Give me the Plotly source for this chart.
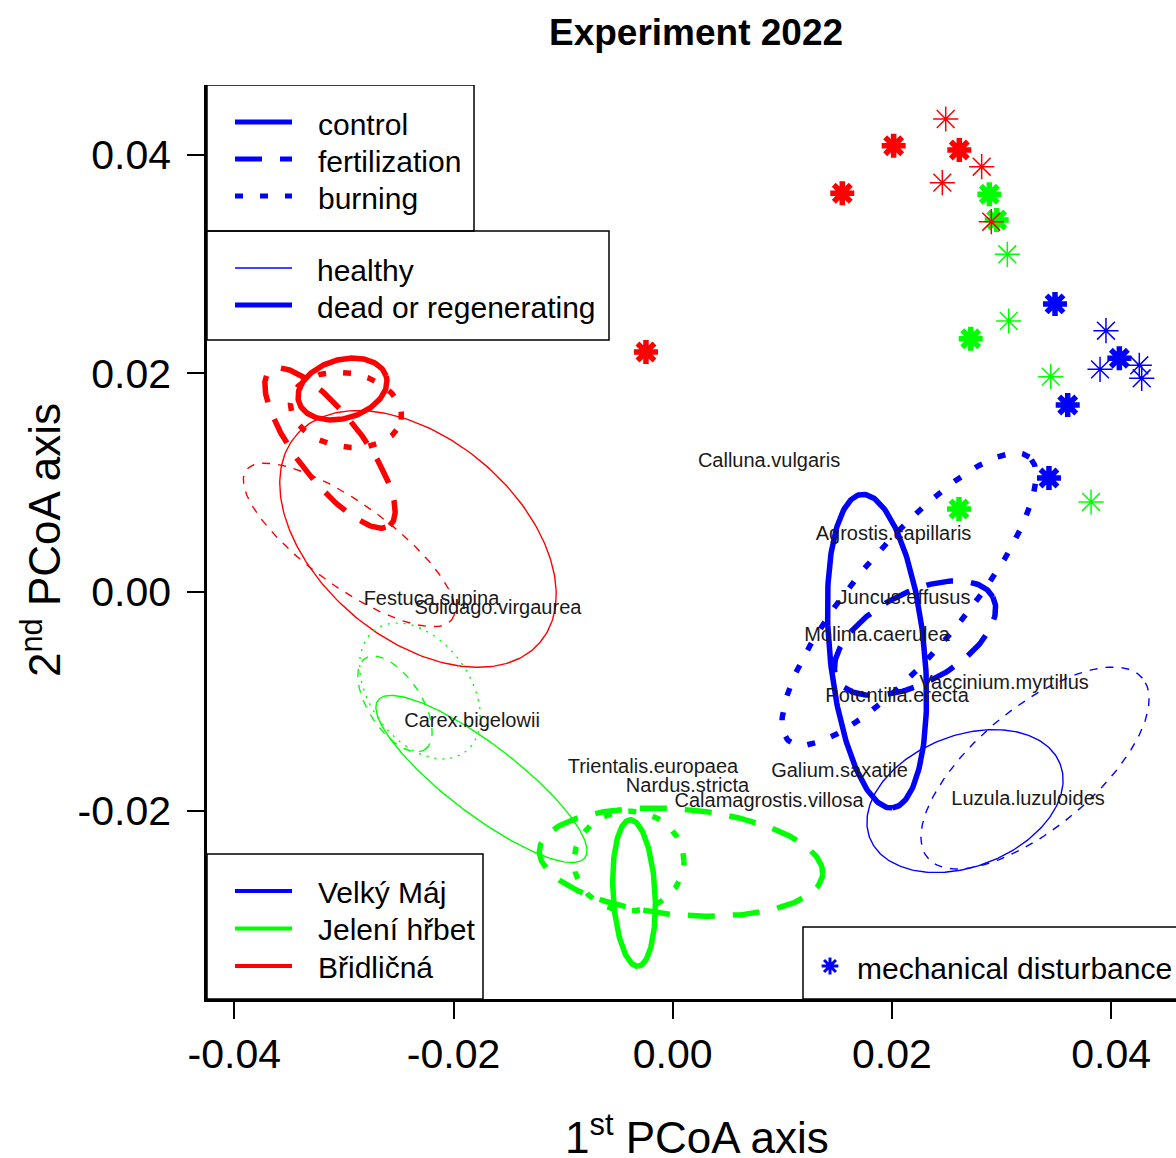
import numpy as np
import plotly.graph_objects as go

# ---------------- data ----------------
site_names = ["Velký Máj", "Jelení hřbet", "Břidličná"]
site_colors = ["#0000FF", "#00FF00", "#FF0000"]
treatment_names = ["control", "fertilization", "burning"]
state_names = ["healthy", "dead or regenerating"]

x_ticks = [-0.04, -0.02, 0.00, 0.02, 0.04]
y_ticks = [-0.02, 0.00, 0.02, 0.04]
tick_fmt = "{:.2f}"

# mechanical-disturbance plots (asterisks)
pt_site = ["Břidličná"] * 8 + ["Jelení hřbet"] * 8 + ["Velký Máj"] * 8
pt_state = (["healthy"] * 4 + ["dead or regenerating"] * 4) * 3
pt_x = [0.02491, 0.02819, 0.02460, 0.02907, 0.02016, 0.02615, 0.01547, -0.00244,
        0.03053, 0.03066, 0.03449, 0.03817, 0.02889, 0.02956, 0.02719, 0.02612,
        0.03953, 0.03899, 0.04257, 0.04279, 0.03488, 0.04075, 0.03604, 0.03433]
pt_y = [0.04326, 0.03890, 0.03744, 0.03387, 0.04082, 0.04043, 0.03647, 0.02196,
        0.03089, 0.02479, 0.01970, 0.00824, 0.03638, 0.03403, 0.02317, 0.00760,
        0.02390, 0.02037, 0.02074, 0.01955, 0.02635, 0.02138, 0.01711, 0.01043]

# group ellipses
ell_site = ["Břidličná"] * 5 + ["Jelení hřbet"] * 6 + ["Velký Máj"] * 5
ell_treat = ["control", "fertilization", "burning", "control", "fertilization",
             "control", "fertilization", "burning", "control", "fertilization", "burning",
             "control", "fertilization", "burning", "control", "fertilization"]
ell_state = ["dead or regenerating"] * 3 + ["healthy"] * 2 + \
            ["dead or regenerating"] * 3 + ["healthy"] * 3 + \
            ["dead or regenerating"] * 3 + ["healthy"] * 2
ell_cx = [-0.03013, -0.03127, -0.02981, -0.02324, -0.02953,
          -0.00353, 0.00076, -0.00399, -0.01745, -0.02534, -0.02306,
          0.01864, 0.02211, 0.02157, 0.02667, 0.03306]
ell_cy = [0.01857, 0.01318, 0.01666, 0.00486, 0.00431,
          -0.02752, -0.02469, -0.02460, -0.01709, -0.01023, -0.00904,
          -0.00540, -0.00421, -0.00064, -0.01911, -0.01609]
ell_a = [0.00416, 0.00895, 0.00511, 0.01461, 0.01160,
         0.00671, 0.01297, 0.00502, 0.01187, 0.00498, 0.00694,
         0.01440, 0.00804, 0.01699, 0.00932, 0.01279]
ell_b = [0.00268, 0.00301, 0.00338, 0.00913, 0.00380,
         0.00192, 0.00484, 0.00457, 0.00320, 0.00243, 0.00457,
         0.00432, 0.00411, 0.00493, 0.00599, 0.00548]
ell_angle = [16.5, -52.5, -10, -40.3, -36,
             -87, -5, 0, -37.4, -57, -54,
             -84.4, 28, 49.8, 21.4, 40]

# species scores
species = ["Calluna.vulgaris", "Agrostis.capillaris", "Juncus.effusus", "Molinia.caerulea",
           "Vaccinium.myrtillus", "Potentilla.erecta", "Galium.saxatile", "Luzula.luzuloides",
           "Calamagrostis.villosa", "Nardus.stricta", "Trientalis.europaea", "Carex.bigelowii",
           "Festuca.supina", "Solidago.virgaurea"]
species_x = [0.00879, 0.02015, 0.02110, 0.01864, 0.03023, 0.02047, 0.01522, 0.03242,
             0.00879, 0.00135, -0.00180, -0.01831, -0.02201, -0.01594]
species_y = [0.01190, 0.00522, -0.00063, -0.00401, -0.00840, -0.00959, -0.01645, -0.01901,
             -0.01920, -0.01782, -0.01609, -0.01188, -0.00072, -0.00155]

# ---------------- styles ----------------
FONT = "Liberation Sans, Arial, sans-serif"
color_of = dict(zip(site_names, site_colors))
width_of = {"healthy": 1.4, "dead or regenerating": 5.5}
dash_of = {
    ("control", "healthy"): "solid",
    ("fertilization", "healthy"): "8px,8px",
    ("burning", "healthy"): "2px,6px",
    ("control", "dead or regenerating"): "solid",
    ("fertilization", "dead or regenerating"): "27px,18px",
    ("burning", "dead or regenerating"): "8px,17px",
}

fig = go.Figure()

t = np.linspace(0, 2 * np.pi, 240)
for s, tr, st, cx, cy, a, b, ang in zip(ell_site, ell_treat, ell_state, ell_cx, ell_cy,
                                        ell_a, ell_b, ell_angle):
    phi = np.deg2rad(ang)
    ex = cx + a * np.cos(t) * np.cos(phi) - b * np.sin(t) * np.sin(phi)
    ey = cy + a * np.cos(t) * np.sin(phi) + b * np.sin(t) * np.cos(phi)
    fig.add_trace(go.Scatter(x=ex, y=ey, mode="lines", hoverinfo="skip", showlegend=False,
                             line=dict(color=color_of[s], width=width_of[st],
                                       dash=dash_of[(tr, st)])))

for s in site_names:
    for st in state_names:
        xs = [x for x, ps, pst in zip(pt_x, pt_site, pt_state) if ps == s and pst == st]
        ys = [y for y, ps, pst in zip(pt_y, pt_site, pt_state) if ps == s and pst == st]
        thick = st != "healthy"
        fig.add_trace(go.Scatter(
            x=xs, y=ys, mode="markers", showlegend=False,
            marker=dict(symbol="asterisk-open", size=20 if thick else 21,
                        color=color_of[s],
                        line=dict(color=color_of[s], width=5.5 if thick else 1.5))))

fig.add_trace(go.Scatter(x=species_x, y=species_y, mode="text", text=species,
                         textposition="middle center", showlegend=False,
                         textfont=dict(family=FONT, size=20, color="#1a1a1a")))

# ---------------- legends (pixel frame via hidden overlay axes) ----------------
PL, PR, PT, PB = 207, 1176, 85, 999   # plot area in window pixels
FIG_W, FIG_H = 1176, 1158
shapes = []
annots = []

def box(x0, y0, x1, y1):
    shapes.append(dict(type="rect", xref="x2", yref="y2", x0=x0, y0=y0, x1=x1, y1=y1,
                       line=dict(color="black", width=1.5), layer="above"))

def seg(y, color, width, dash="solid"):
    shapes.append(dict(type="line", xref="x2", yref="y2", x0=235, x1=292, y0=y, y1=y,
                       line=dict(color=color, width=width, dash=dash), layer="above"))

def label(x, y, txt, size=30):
    annots.append(dict(xref="x2", yref="y2", x=x, y=y, text=txt, showarrow=False,
                       xanchor="left", yanchor="middle",
                       font=dict(family=FONT, size=size, color="black")))

# treatment legend
box(207, 85, 474, 231)
for i, tr in enumerate(treatment_names):
    yy = 122 + 37 * i
    seg(yy, "#0000FF", 5, dash_of[(tr, "dead or regenerating")])
    label(316, yy + 2, tr)

# state legend
box(207, 231, 609, 340)
for i, st in enumerate(state_names):
    yy = 268 + 37 * i
    seg(yy, "#0000FF", 1.4 if st == "healthy" else 5)
    label(315, yy + 2, st)

# site legend
box(207, 854, 483, 999)
for i, s in enumerate(site_names):
    yy = 891 + 37.5 * i
    seg(yy, color_of[s], 4)
    label(316, yy + 1, s)

# mechanical disturbance legend
box(803, 927, 1200, 999)
fig.add_trace(go.Scatter(x=[830], y=[966], xaxis="x2", yaxis="y2", mode="markers",
                         showlegend=False, hoverinfo="skip",
                         marker=dict(symbol="asterisk-open", size=14, color="#0000FF",
                                     line=dict(color="#0000FF", width=3))))
label(855, 968, "mechanical disturbance")

def px(xp):
    return (xp - PL) / (PR - PL)

def py(yp):
    return (PB - yp) / (PB - PT)

annots.append(dict(xref="paper", yref="paper", x=px(695.5), y=py(33),
                   text="<b>Experiment 2022</b>", showarrow=False,
                   xanchor="center", yanchor="middle",
                   font=dict(family=FONT, size=37, color="black")))
annots.append(dict(xref="paper", yref="paper", x=px(696.5), y=py(1134),
                   text="1<sup>st</sup> PCoA axis", showarrow=False,
                   xanchor="center", yanchor="middle",
                   font=dict(family=FONT, size=44, color="black")))
annots.append(dict(xref="paper", yref="paper", x=px(41), y=py(540),
                   text="2<sup>nd</sup> PCoA axis", showarrow=False, textangle=-90,
                   xanchor="center", yanchor="middle",
                   font=dict(family=FONT, size=44, color="black")))

axis_common = dict(showgrid=False, zeroline=False, showline=True, linecolor="black",
                   linewidth=2.5, ticks="outside", ticklen=17, tickwidth=1.5,
                   tickcolor="black", tickfont=dict(family=FONT, size=41, color="black"))

fig.update_layout(
    width=FIG_W, height=FIG_H,
    margin=dict(l=PL, r=FIG_W - PR, t=PT, b=FIG_H - PB),
    plot_bgcolor="white", paper_bgcolor="white",
    showlegend=False,
    xaxis=dict(range=[-0.04249, 0.04592], tickvals=x_ticks,
               ticktext=[tick_fmt.format(v) for v in x_ticks], **axis_common),
    yaxis=dict(range=[-0.03721, 0.04637], tickvals=y_ticks,
               ticktext=[tick_fmt.format(v) for v in y_ticks], ticklabelstandoff=8,
               **axis_common),
    xaxis2=dict(range=[PL, PR], overlaying="x", visible=False, anchor="y2"),
    yaxis2=dict(range=[PB, PT], overlaying="y", visible=False, anchor="x2"),
    shapes=shapes, annotations=annots,
)

fig.write_html("out.html",
               config={"displayModeBar": False},
               post_script="document.body.style.margin='0';"
                           "document.body.style.overflow='hidden';")
